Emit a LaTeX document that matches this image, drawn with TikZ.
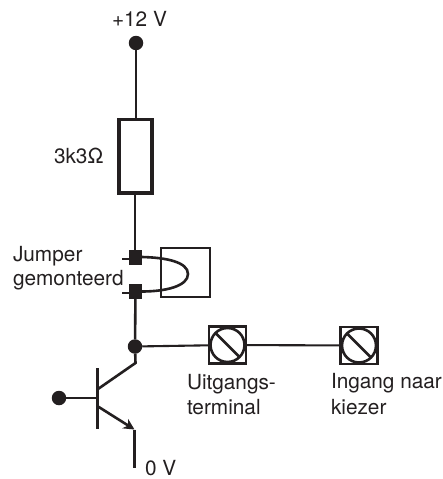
\documentclass[tikz,border=0pt]{standalone}
\usepackage{fontspec}
\setmainfont{TeX Gyre Heros}
\usetikzlibrary{arrows.meta}
\definecolor{ink}{HTML}{231F20}
\tikzset{
  x=1pt,y=-1pt,
  every node/.style={inner sep=0pt,outer sep=0pt,text=ink},
  wire/.style={draw=ink,line width=2.6pt},
  thinwire/.style={draw=ink,line width=2.1pt},
  dotnode/.style={circle,fill=ink,minimum size=14.5pt},
  padnode/.style={rectangle,fill=ink,minimum width=12.5pt,minimum height=15pt},
  term/.style={rectangle,draw=ink,line width=2.4pt,fill=white,minimum size=37pt},
  dial/.style={circle,draw=ink,line width=2.6pt,minimum size=34pt},
  lab/.style={font=\fontsize{20.8}{25.5}\selectfont,align=left,anchor=base west}
}
\begin{document}
\begin{tikzpicture}
\useasboundingbox (0,0) rectangle (442,479);
% power and resistor
\node[dotnode] (vcc) at (136,43) {};
\node[rectangle,draw=ink,line width=3.6pt,minimum width=33.5pt,minimum height=73.5pt] (res) at (135.5,156.2) {};
\node[padnode] (p1) at (135.5,257.5) {};
\node[padnode] (p2) at (135.5,291.5) {};
\node[dotnode] (jn) at (135,346.5) {};
\draw[wire] (vcc) -- (136,118);
\draw[wire] (135,195) -- (135,250);
\draw[wire] (p2) -- (jn);
% jumper
\node[rectangle,draw=ink,line width=2.5pt,minimum width=49pt,minimum height=49pt] (jbox) at (185.5,272.5) {};
\coordinate (d1) at (122,259);
\coordinate (d2) at (122,293);
\draw[wire] (d1) -- (p1.west |- d1);
\draw[wire] (d2) -- (p2.west |- d2);
\draw[wire] (p1.east |- 0,257) .. controls (166,257.5) and (188,262) .. (188,274) .. controls (188,286) and (166,291.5) .. (p2.east |- 0,291.5);
% terminals
\node[term] (t1) at (227.5,345) {};
\node[dial] (c1) at (227.5,345) {};
\node[term] (t2) at (359,345.5) {};
\node[dial] (c2) at (359,345.5) {};
\draw[wire] (c1.north west) -- (c1.south east);
\draw[wire] (c2.north west) -- (c2.south east);
\draw[thinwire] (jn) -- (t1);
\draw[thinwire] (t1) -- (t2);
% transistor
\node[dotnode] (base) at (59,398) {};
\coordinate (bartop) at (97.7,368);
\coordinate (barbot) at (97.7,429);
\coordinate (bj) at (97.7,398);
\coordinate (cbend) at (135.5,363);
\coordinate (cfoot) at (98,389);
\coordinate (efoot) at (98,406.5);
\coordinate (etip) at (134.5,429.5);
\coordinate (gnd) at (134.5,468);
\draw[wire] (bartop) -- (barbot);
\draw[wire] (base) -- (bj);
\draw[wire] (jn) -- (cbend) -- (cfoot);
\draw[wire,-{Stealth[length=11pt,width=11pt]}] (efoot) -- (etip);
\draw[wire] (etip) -- (gnd);
% labels
\node[lab] (l12) at (112,26) {+12 V};
\node[lab] (lr) at (54,163) {3k3Ω};
\node[lab,font=\fontsize{20.8}{24}\selectfont] (lj) at (13,285) {Jumper\\gemonteerd};
\node[lab] (lu) at (187,414.5) {Uitgangs-\\terminal};
\node[lab] (li) at (331,414) {Ingang naar\\kiezer};
\node[lab] (l0) at (145,475) {0 V};
\end{tikzpicture}
\end{document}
